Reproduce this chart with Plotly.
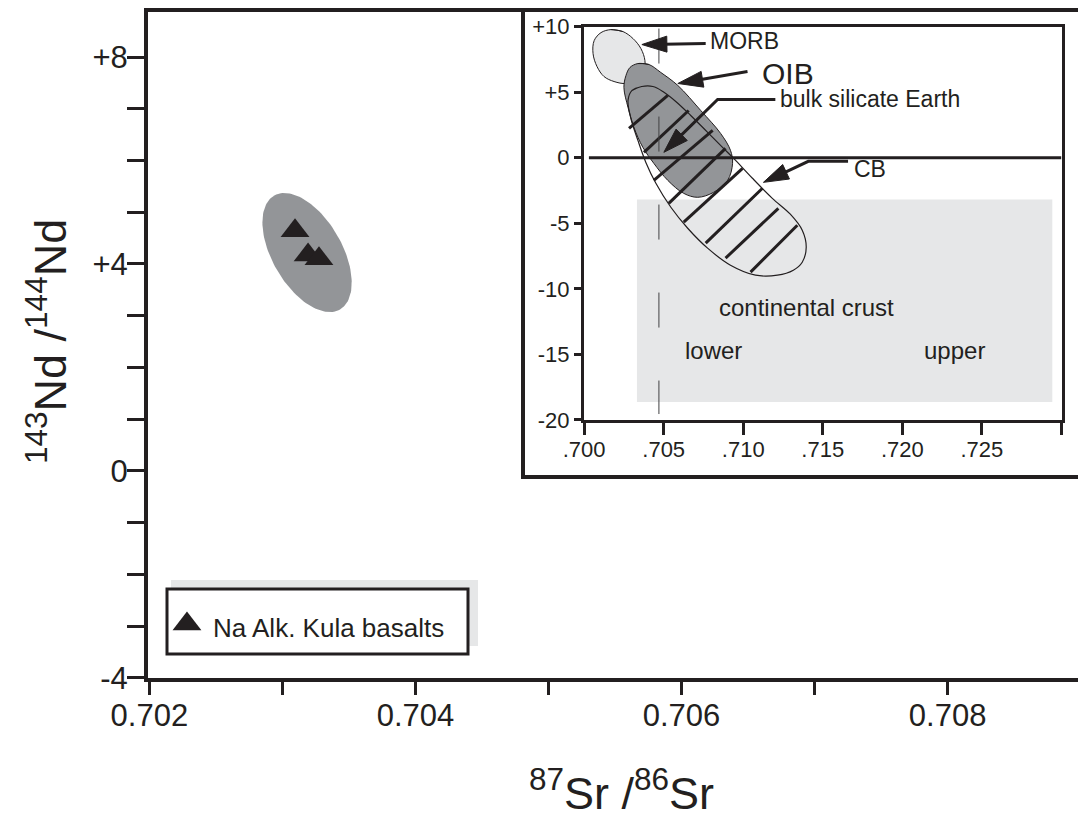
import numpy as np
import plotly.graph_objects as go

# ---------------- data ----------------
# main panel: Na-alkaline Kula basalts (87Sr/86Sr, eps-Nd style axis)
kula_sr = [0.703095, 0.703193, 0.703275]
kula_nd = [4.64, 4.17, 4.10]
# Kula field: the two ends of its long axis and its width/length ratio
kula_field_sr = [0.702938, 0.703433]
kula_field_nd = [5.32, 3.12]
kula_field_ratio = 0.53

main_x_tickvals = [0.702, 0.704, 0.706, 0.708]
main_x_ticktext = ["0.702", "0.704", "0.706", "0.708"]
main_x_minor = [0.703, 0.705, 0.707]
main_y_tickvals = [-4, 0, 4, 8]
main_y_ticktext = ["-4", "0", "+4", "+8"]
main_y_minor = [-3, -2, -1, 1, 2, 3, 5, 6, 7]

# inset: mantle reservoirs
inset_x_tickvals = [0.700, 0.705, 0.710, 0.715, 0.720, 0.725]
inset_x_ticktext = [".700", ".705", ".710", ".715", ".720", ".725"]
inset_x_minor = [0.730]
inset_y_tickvals = [-20, -15, -10, -5, 0, 5, 10]
inset_y_ticktext = ["-20", "-15", "-10", "-5", "0", "+5", "+10"]

morb_sr = [0.70169, 0.70244, 0.70307, 0.70357, 0.70382, 0.70376, 0.70332,
           0.70263, 0.70188, 0.70125, 0.70081, 0.70056, 0.70063, 0.70106]
morb_nd = [9.77, 9.62, 9.09, 8.32, 7.41, 6.65, 5.96,
           5.66, 5.81, 6.19, 6.95, 7.94, 8.93, 9.54]

oib_sr = [0.70338, 0.70407, 0.70482, 0.70589, 0.70733, 0.70858, 0.70920,
          0.70933, 0.70902, 0.70814, 0.70714, 0.70626, 0.70526, 0.70438,
          0.70369, 0.70313, 0.70276, 0.70250, 0.70263, 0.70288]
oib_nd = [7.18, 7.11, 6.50, 5.51, 3.60, 1.85, 0.56,
          -0.43, -1.73, -2.64, -3.02, -2.72, -1.73, -0.43,
          0.79, 2.31, 3.83, 5.36, 6.27, 6.88]

cb_sr = [0.70301, 0.70363, 0.70432, 0.70495, 0.70576, 0.70670, 0.70770,
         0.70870, 0.70952, 0.71058, 0.71183, 0.71296, 0.71371, 0.71396,
         0.71371, 0.71315, 0.71215, 0.71077, 0.70920, 0.70776, 0.70651,
         0.70545, 0.70451, 0.70388, 0.70338, 0.70294, 0.70276]
cb_nd = [5.13, 5.43, 5.43, 5.05, 4.29, 3.22, 2.01,
         0.79, -0.20, -1.57, -3.10, -4.31, -5.53, -6.83,
         -7.97, -8.58, -8.96, -8.96, -8.20, -6.90, -5.38,
         -3.78, -1.95, -0.36, 1.32, 2.99, 4.37]

# hatching of the CB field: (start, end) of each stroke
hatch_sr = [[0.70282, 0.70526], [0.70376, 0.70657], [0.70438, 0.70808],
            [0.70532, 0.70889], [0.70626, 0.70996], [0.70764, 0.71121],
            [0.70889, 0.71221], [0.71046, 0.71340]]
hatch_nd = [[2.23, 4.75], [0.41, 3.60], [-1.73, 2.08],
            [-3.48, 0.71], [-4.92, -0.81], [-6.52, -2.33],
            [-7.66, -3.86], [-8.73, -5.15]]

crust_sr = [0.70332, 0.72943]
crust_nd = [-18.64, -3.18]

bse_sr = [0.7047, 0.7047]
bse_nd = [9.85, -19.55]
zero_sr = [0.7003, 0.7300]
zero_nd = [0.0, 0.0]

# label arrows: polyline, last point = arrow tip
arrow_morb = [(0.70764, 8.71), (0.70363, 8.63)]
arrow_oib = [(0.71027, 6.57), (0.70589, 5.66)]
arrow_bse = [(0.71202, 4.44), (0.70839, 4.44), (0.70501, 0.41)]
arrow_cb = [(0.71659, -0.28), (0.71409, -0.28), (0.71127, -1.88)]

# ---------------- style / layout ----------------
INK = "#231f20"
GRAY = "#939598"
LIGHT = "#e6e7e8"
FONT = "Liberation Sans, Arial, Helvetica, sans-serif"

PLOT_L, PLOT_T, PLOT_W, PLOT_H = 148, 12, 930, 666
MAIN_XR = [0.70199, 0.70898]
MAIN_YR = [-4.005, 8.87]
X2_DOM = [0.4688, 0.9823]
Y2_DOM = [0.3874, 0.9782]
INS_XR = [0.69999, 0.73001]
INS_YR = [-20.005, 10.005]

main_sx = PLOT_W / (MAIN_XR[1] - MAIN_XR[0])
main_sy = PLOT_H / (MAIN_YR[1] - MAIN_YR[0])
ins_sx = PLOT_W * (X2_DOM[1] - X2_DOM[0]) / (INS_XR[1] - INS_XR[0])
ins_sy = PLOT_H * (Y2_DOM[1] - Y2_DOM[0]) / (INS_YR[1] - INS_YR[0])


def ellipse(xs, ys, ratio, sx, sy, n=140):
    cx, cy = (xs[0] + xs[1]) / 2, (ys[0] + ys[1]) / 2
    dx, dy = (xs[1] - xs[0]) * sx, (ys[1] - ys[0]) * sy
    a = np.hypot(dx, dy) / 2
    ux, uy = dx / (2 * a), dy / (2 * a)
    nx, ny = -uy, ux
    b = ratio * a
    t = np.linspace(0, 2 * np.pi, n)
    px = a * np.cos(t) * ux + b * np.sin(t) * nx
    py = a * np.cos(t) * uy + b * np.sin(t) * ny
    return cx + px / sx, cy + py / sy


def arrow(pts, sx, sy, L=25.0, W=8.0):
    xs = [p[0] for p in pts]
    ys = [p[1] for p in pts]
    tx, ty = xs[-1], ys[-1]
    dx, dy = (tx - xs[-2]) * sx, (ty - ys[-2]) * sy
    d = np.hypot(dx, dy)
    ux, uy = dx / d, dy / d
    nx, ny = -uy, ux
    bx, by = -L * ux, -L * uy
    shaft_x = xs[:-1] + [tx + (bx + 3 * ux) / sx]
    shaft_y = ys[:-1] + [ty + (by + 3 * uy) / sy]
    head_x = [tx, tx + (bx + W * nx) / sx, tx + (bx - W * nx) / sx, tx]
    head_y = [ty, ty + (by + W * ny) / sy, ty + (by - W * ny) / sy, ty]
    return shaft_x, shaft_y, head_x, head_y


def closed(v):
    return list(v) + [v[0], v[1]]


fig = go.Figure()

# ---- main panel ----
ex, ey = ellipse(kula_field_sr, kula_field_nd, kula_field_ratio, main_sx, main_sy)
fig.add_trace(go.Scatter(x=ex, y=ey, mode="lines", fill="toself", fillcolor=GRAY,
                         line=dict(width=0, color=GRAY), hoverinfo="skip", showlegend=False))
fig.add_trace(go.Scatter(x=kula_sr, y=kula_nd, mode="markers", name="Na Alk. Kula basalts",
                         marker=dict(symbol="triangle-up", size=25, color=INK, line=dict(width=0)),
                         showlegend=False))
# legend glyph (overlay axes spanning the plot area, 0..1)
fig.add_trace(go.Scatter(x=[0.0419], y=[0.0811], xaxis="x3", yaxis="y3", mode="markers",
                         marker=dict(symbol="triangle-up", size=25, color=INK, line=dict(width=0)),
                         hoverinfo="skip", showlegend=False))

# ---- inset ----
ins = dict(xaxis="x2", yaxis="y2", hoverinfo="skip", showlegend=False)
fig.add_trace(go.Scatter(x=closed(morb_sr), y=closed(morb_nd), mode="lines", fill="toself",
                         fillcolor=LIGHT, line=dict(color=INK, width=1, shape="spline", smoothing=1),
                         name="MORB", **ins))
fig.add_trace(go.Scatter(x=closed(oib_sr), y=closed(oib_nd), mode="lines", fill="toself",
                         fillcolor=GRAY, line=dict(color=INK, width=1, shape="spline", smoothing=1),
                         name="OIB", **ins))
fig.add_trace(go.Scatter(x=closed(cb_sr), y=closed(cb_nd), mode="lines",
                         line=dict(color=INK, width=1.2, shape="spline", smoothing=1),
                         name="CB", **ins))
hx, hy = [], []
for a, b in zip(hatch_sr, hatch_nd):
    hx += a + [None]
    hy += b + [None]
fig.add_trace(go.Scatter(x=hx, y=hy, mode="lines", line=dict(color=INK, width=3), **ins))
fig.add_trace(go.Scatter(x=zero_sr, y=zero_nd, mode="lines", line=dict(color=INK, width=3), **ins))
fig.add_trace(go.Scatter(x=bse_sr, y=bse_nd, mode="lines",
                         line=dict(color="#414042", width=1, dash="35px,53px"), **ins))

for arr in (arrow_morb, arrow_oib, arrow_bse, arrow_cb):
    sx_, sy_, hx_, hy_ = arrow(arr, ins_sx, ins_sy)
    fig.add_trace(go.Scatter(x=sx_, y=sy_, mode="lines", line=dict(color=INK, width=3), **ins))
    fig.add_trace(go.Scatter(x=hx_, y=hy_, mode="lines", fill="toself", fillcolor=INK,
                             line=dict(color=INK, width=1), **ins))

# ---- shapes ----
shapes = [
    # inset frame
    dict(type="rect", xref="paper", yref="paper", x0=(523 - PLOT_L) / PLOT_W, x1=1.2,
         y0=(PLOT_T + PLOT_H - 477) / PLOT_H, y1=(PLOT_T + PLOT_H - 10) / PLOT_H,
         fillcolor="white", line=dict(color=INK, width=4), layer="below"),
    # continental crust field
    dict(type="rect", xref="x2", yref="y2", x0=crust_sr[0], x1=crust_sr[1],
         y0=crust_nd[0], y1=crust_nd[1], fillcolor=LIGHT, line=dict(width=0), layer="below"),
    # legend shadow and box
    dict(type="rect", xref="paper", yref="paper", x0=(171 - PLOT_L) / PLOT_W, x1=(478 - PLOT_L) / PLOT_W,
         y0=(PLOT_T + PLOT_H - 646) / PLOT_H, y1=(PLOT_T + PLOT_H - 580) / PLOT_H,
         fillcolor=LIGHT, line=dict(width=0), layer="below"),
    dict(type="rect", xref="paper", yref="paper", x0=(167 - PLOT_L) / PLOT_W, x1=(468 - PLOT_L) / PLOT_W,
         y0=(PLOT_T + PLOT_H - 654) / PLOT_H, y1=(PLOT_T + PLOT_H - 589) / PLOT_H,
         fillcolor="white", line=dict(color=INK, width=3), layer="below"),
]


def ia(text, x, y, size):
    return dict(text=text, x=x, y=y, xref="x2", yref="y2", xanchor="left", yanchor="middle",
                showarrow=False, font=dict(size=size, color=INK, family=FONT))


annotations = [
    ia("MORB", 0.70778, 8.93, 23),
    ia("OIB", 0.71103, 6.42, 30),
    ia("bulk silicate Earth", 0.71216, 4.48, 23),
    ia("CB", 0.71686, -0.90, 23),
    ia("continental crust", 0.70834, -11.40, 24),
    ia("lower", 0.70621, -14.67, 24),
    ia("upper", 0.72124, -14.67, 24),
    dict(text="Na Alk. Kula basalts", xref="paper", yref="paper",
         x=(211 - PLOT_L) / PLOT_W, y=(PLOT_T + PLOT_H - 628) / PLOT_H,
         xanchor="left", yanchor="middle", showarrow=False,
         font=dict(size=26, color=INK, family=FONT)),
    dict(text="<sup>87</sup>Sr /<sup>86</sup>Sr", xref="paper", yref="paper",
         x=(621 - PLOT_L) / PLOT_W, y=(PLOT_T + PLOT_H - 790) / PLOT_H,
         xanchor="center", yanchor="middle", showarrow=False,
         font=dict(size=45, color=INK, family=FONT)),
    dict(text="<sup>143</sup>Nd /<sup>144</sup>Nd", xref="paper", yref="paper",
         x=(47 - PLOT_L) / PLOT_W, y=(PLOT_T + PLOT_H - 342) / PLOT_H,
         xanchor="center", yanchor="middle", textangle=-90, showarrow=False,
         font=dict(size=45, color=INK, family=FONT)),
]

axis_common = dict(showgrid=False, zeroline=False, showline=True, linecolor=INK,
                   ticks="outside", tickcolor=INK, tickwidth=3, tickmode="array",
                   fixedrange=True)

fig.update_layout(
    width=1078, height=825,
    margin=dict(l=PLOT_L, r=1078 - PLOT_L - PLOT_W, t=PLOT_T, b=825 - PLOT_T - PLOT_H, pad=0),
    paper_bgcolor="white", plot_bgcolor="white",
    font=dict(family=FONT, color=INK),
    showlegend=False,
    xaxis=dict(domain=[0, 1], range=MAIN_XR, linewidth=4, mirror=True, ticklen=13,
               tickvals=main_x_tickvals, ticktext=main_x_ticktext, ticklabelstandoff=-6,
               minor=dict(tickmode="array", tickvals=main_x_minor, ticks="outside",
                          ticklen=13, tickwidth=3, tickcolor=INK, showgrid=False),
               tickfont=dict(size=31, color=INK), **axis_common),
    yaxis=dict(domain=[0, 1], range=MAIN_YR, linewidth=4, ticklen=17,
               tickvals=main_y_tickvals, ticktext=main_y_ticktext, ticklabelstandoff=-7,
               minor=dict(tickmode="array", tickvals=main_y_minor, ticks="outside",
                          ticklen=17, tickwidth=3, tickcolor=INK, showgrid=False),
               tickfont=dict(size=31, color=INK), **axis_common),
    xaxis2=dict(domain=X2_DOM, anchor="y2", range=INS_XR, linewidth=3, mirror=True, ticklen=12,
                tickvals=inset_x_tickvals, ticktext=inset_x_ticktext, ticklabelstandoff=-4,
                minor=dict(tickmode="array", tickvals=inset_x_minor, ticks="outside",
                           ticklen=12, tickwidth=3, tickcolor=INK, showgrid=False),
                tickfont=dict(size=22, color=INK), **axis_common),
    yaxis2=dict(domain=Y2_DOM, anchor="x2", range=INS_YR, linewidth=3, mirror=True, ticklen=7,
                tickvals=inset_y_tickvals, ticktext=inset_y_ticktext,
                tickfont=dict(size=22, color=INK), **axis_common),
    xaxis3=dict(overlaying="x", anchor="y3", range=[0, 1], visible=False, fixedrange=True),
    yaxis3=dict(overlaying="y", anchor="x3", range=[0, 1], visible=False, fixedrange=True),
    shapes=shapes,
    annotations=annotations,
)

fig.write_html("out.html")
